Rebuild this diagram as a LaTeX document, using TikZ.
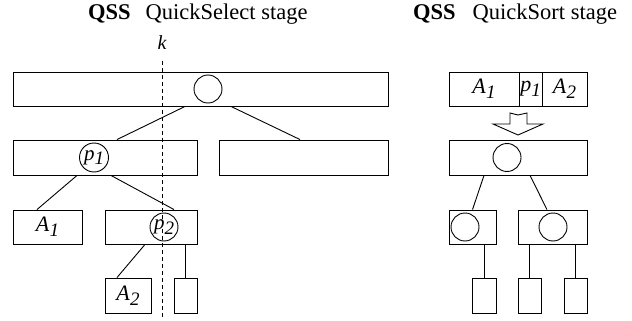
\documentclass[tikz,border=0pt]{standalone}
\usepackage{fontspec}
\setmainfont{Liberation Serif}
\usetikzlibrary{calc}
\newcommand{\lbl}{\fontsize{22}{26}\selectfont}
\newcommand{\idx}[2]{\textit{#1}\raisebox{-0.45ex}{\textit{\fontsize{19}{22}\selectfont #2}}}
\tikzset{box/.style={rectangle, draw, line width=0.9pt, minimum height=34pt, inner sep=0pt, font=\lbl}, pivot/.style={circle, draw, line width=0.9pt, minimum size=28pt, inner sep=0pt, font=\fontsize{21}{24}\selectfont}, link/.style={line width=0.9pt}, ttl/.style={font=\fontsize{22.5}{27}\selectfont, inner sep=0pt, anchor=base west}}

\begin{document}
\begin{tikzpicture}[x=1pt, y=-1pt]
\useasboundingbox (0,0) rectangle (632,321);
% QuickSelect stage
\node[ttl] (selTitle) at (88,20) {\textbf{QSS}\hspace{15pt}QuickSelect stage};
\node[box, minimum width=375pt] (selTop) at (200.5,89) {};
\node[pivot] (selTopP) at (208,89) {};
\node[box, minimum width=184pt, minimum height=35pt] (selL) at (105,157.5) {};
\node[box, minimum width=169pt, minimum height=35pt] (selR) at (303.5,157.5) {};
\node[pivot, minimum size=29pt] (selP1) at (94,157.5) {\idx{p}{1}};
\node[box, minimum width=69pt] (selA1) at (47.5,227) {\idx{A}{1}};
\node[box, minimum width=92pt] (selM) at (151,227) {};
\node[pivot] (selP2) at (164,227) {\idx{p}{2}};
\node[box, minimum width=46pt, minimum height=35pt] (selA2) at (128,295.5) {\idx{A}{2}};
\node[box, minimum width=23pt, minimum height=35pt] (selE) at (185.5,295.5) {};
\draw[link] ([xshift=-15.5pt]selTop.south) -- ([xshift=12pt]selL.north);
\draw[link] ([xshift=30.5pt]selTop.south) -- ([xshift=-3.5pt]selR.north);
\draw[link] ([xshift=-28pt]selL.south) -- ([xshift=-10.5pt]selA1.north);
\draw[link] ([xshift=6pt]selL.south) -- ([xshift=23pt]selM.north);
\draw[link] ([xshift=-6pt]selM.south) -- ([xshift=-11pt]selA2.north);
\draw[link] (selM.south -| selE.north) -- (selE.north);
% k-th position
\node[font=\fontsize{20}{24}\selectfont\itshape, inner sep=0pt, anchor=base] (kLbl) at (162,50) {k};
\coordinate (kTop) at (162,61);
\coordinate (kBot) at (162,318);
\draw[line width=0.8pt, dash pattern=on 4pt off 3pt] (kTop) -- (kBot);

% QuickSort stage
\node[ttl] (sortTitle) at (413,20) {\textbf{QSS}\hspace{17pt}QuickSort stage};
\node[box, minimum width=70pt] (arrA1) at (484,89) {\idx{A}{1}};
\node[box, minimum width=23pt] (arrP1) at (530.5,89) {\idx{p}{1}};
\node[box, minimum width=45pt] (arrA2) at (564.5,89) {\idx{A}{2}};
\draw[line width=0.9pt] (510,113) -- (518,115) -- (527,113) -- (527,124) -- (543,124) -- (518,135) -- (493,124) -- (510,124) -- cycle;
\node[box, minimum width=138pt, minimum height=35pt] (sortTop) at (518,157.5) {};
\node[pivot] (sortTopP) at (507,157.5) {};
\node[box, minimum width=47pt] (sortL) at (472.5,227) {};
\node[pivot] (sortLP) at (465,227) {};
\node[box, minimum width=69pt] (sortR) at (552.5,227) {};
\node[pivot] (sortRP) at (553,227) {};
\node[box, minimum width=24pt, minimum height=35pt] (leafA) at (484,295.5) {};
\node[box, minimum width=23pt, minimum height=35pt] (leafB) at (529.5,295.5) {};
\node[box, minimum width=23pt, minimum height=35pt] (leafC) at (575.5,295.5) {};
\draw[link] ([xshift=-34pt]sortTop.south) -- (sortL.north);
\draw[link] ([xshift=12pt]sortTop.south) -- ([xshift=-5.5pt]sortR.north);
\draw[link] (sortL.south -| leafA.north) -- (leafA.north);
\draw[link] (sortR.south -| leafB.north) -- (leafB.north);
\draw[link] (sortR.south -| leafC.north) -- (leafC.north);
\end{tikzpicture}
\end{document}
